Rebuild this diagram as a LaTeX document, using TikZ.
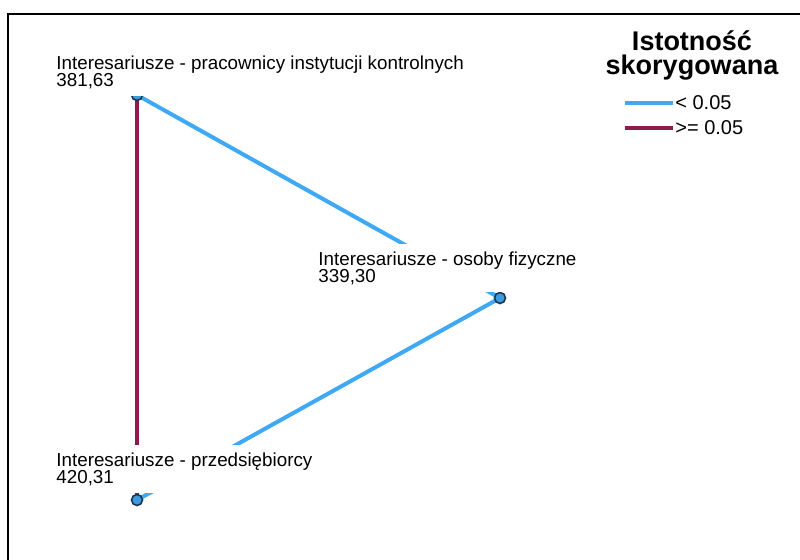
\documentclass[tikz,border=0pt]{standalone}
\usepackage{fontspec}
\setmainfont{Liberation Sans}
\definecolor{sigblue}{HTML}{3FA9F5}
\definecolor{nsred}{HTML}{8E1B4C}
\definecolor{dotfill}{HTML}{3A9BE0}
\definecolor{dotline}{HTML}{1E3550}
\pgfdeclarelayer{paper}
\pgfdeclarelayer{edges}
\pgfsetlayers{paper,edges,main}
\begin{document}
\begin{tikzpicture}[x=0.5pt,y=-0.5pt,
  edge/.style={line width=2pt},
  sig/.style={edge,draw=sigblue},
  nonsig/.style={edge,draw=nsred},
  dot/.style={circle,fill=dotfill,draw=dotline,line width=0.8pt,minimum size=5.5pt,inner sep=0pt},
  lbl/.style={anchor=north west,align=left,fill=white,inner xsep=1.5pt,inner ysep=3.5pt,
    font=\fontsize{9.4pt}{8.75pt}\selectfont},
  keytxt/.style={anchor=west,inner xsep=1pt,font=\fontsize{10pt}{12pt}\selectfont},
  title/.style={anchor=north,align=center,inner sep=0pt,
    font=\fontsize{13.5pt}{12pt}\selectfont\bfseries}]
\useasboundingbox (0,0) rectangle (800,560);
\begin{pgfonlayer}{paper}
  \fill[white] (0,0) rectangle (800,560);
\end{pgfonlayer}
% frame
\draw[line width=1.25pt] (8,560) -- (8,14) -- (800,14);

% groups
\node[dot] (A) at (137,95) {};
\node[dot] (B) at (500,298) {};
\node[dot] (C) at (137,500) {};

% pairwise comparisons
\begin{pgfonlayer}{edges}
  \draw[nonsig] (A.center) -- (C.center);
  \draw[sig] (A.center) -- (B.center);
  \draw[sig] (B.center) -- (C.center);
\end{pgfonlayer}

% group labels
\node[lbl] (lA) at (53,48) {Interesariusze - pracownicy instytucji kontrolnych\\381,63};
\node[lbl] (lB) at (315,244) {Interesariusze - osoby fizyczne\\339,30};
\node[lbl] (lC) at (53,445) {Interesariusze - przedsiębiorcy\\420,31};

% legend
\node[title] (ttl) at (692,30) {Istotność\\skorygowana};
\coordinate (k1a) at (625,103);
\coordinate (k1b) at (673,103);
\coordinate (k2a) at (625,128);
\coordinate (k2b) at (673,128);
\draw[sig] (k1a) -- (k1b);
\draw[nonsig] (k2a) -- (k2b);
\node[keytxt] (k1) at (k1b) {< 0.05};
\node[keytxt] (k2) at (k2b) {>= 0.05};
\end{tikzpicture}
\end{document}
